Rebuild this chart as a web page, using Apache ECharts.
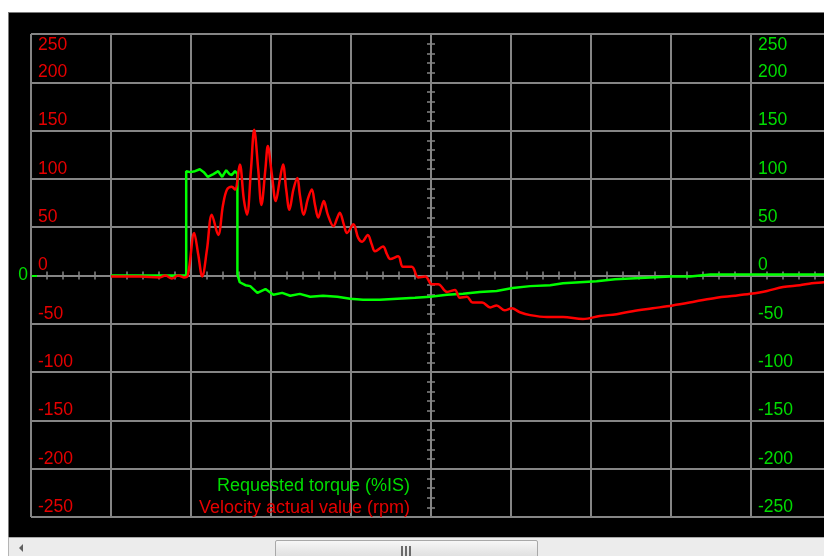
<!DOCTYPE html>
<html>
<head>
<meta charset="utf-8">
<title>Drive trace – torque and velocity</title>
<script src="https://cdn.jsdelivr.net/npm/echarts/dist/echarts.min.js"></script>
<style>
  html, body { margin: 0; padding: 0; background: #ffffff; }
  #wrap { position: relative; width: 824px; height: 556px; overflow: hidden; }
  #panel {
    position: absolute; left: 8px; top: 12px; width: 816px; height: 525px;
    background: #000000; border-left: 1px solid #7a7a7a; border-top: 1px solid #7a7a7a;
    box-sizing: border-box;
  }
  #chart { position: absolute; left: 0; top: 0; width: 824px; height: 556px; }
  #hscroll {
    position: absolute; left: 8px; top: 537px; width: 816px; height: 19px;
    background: #ececec; border-top: 1px solid #a9a9a9; border-left: 1px solid #b5b5b5;
    box-sizing: border-box;
  }
  #arrowL {
    position: absolute; left: 10px; top: 6px; width: 0; height: 0;
    border-top: 4px solid transparent; border-bottom: 4px solid transparent;
    border-right: 4px solid #606060;
  }
  #thumb {
    position: absolute; left: 266px; top: 2px; width: 263px; height: 20px;
    background: linear-gradient(#f6f6f6, #dcdcdc); border: 1px solid #a8a8a8;
    border-radius: 2px; box-sizing: border-box;
  }
  #grip { position: absolute; left: 125px; top: 5px; width: 12px; height: 12px; }
  #grip i { position: absolute; top: 0; width: 2px; height: 12px; background: #6a6a6a; }
</style>
</head>
<body>
<div id="wrap">
  <div id="panel"></div>
  <div id="chart"></div>
  <div id="hscroll">
    <div id="arrowL"></div>
    <div id="thumb"><div id="grip"><i style="left:0"></i><i style="left:4px"></i><i style="left:8px"></i></div></div>
  </div>
</div>
<script>
// Time relative to the centre of the window, ms
const velTime = [-400,-364,-339,-332,-324,-316,-309,-304,-296,-291,-286,-280,-274,-266,-260,-255,-249,-245,-239,-234,-230,-225,-221,-216,-212,-207,-204,-199,-194,-189,-185,-181,-177,-172,-167,-164,-159,-154,-149,-145,-141,-137,-134,-129,-122,-117,-114,-109,-105,-97,-91,-86,-79,-74,-70,-60,-55,-51,-41,-35,-24,-16,-7,1,9,20,30,36,45,52,64,74,82,92,101,111,124,145,165,190,211,232,252,277,302,330,357,380,399,420,440,461,476,491,500];
// Velocity actual value, rpm
const velRpm = [-1,-1,-2,0,-3,0,-2,0,44,22,-1,27,63,42,73,89,92,89,115,79,63,110,151,110,73,110,134,105,77,99,115,89,68,89,101,84,63,79,89,73,60,70,77,63,51,60,65,53,44,53,39,35,42,32,25,30,22,17,20,9,9,-2,-1,-9,-9,-17,-15,-23,-22,-28,-28,-33,-31,-36,-34,-38,-41,-43,-43,-45,-42,-40,-37,-34,-31,-27,-23,-21,-19,-16,-12,-10,-8,-7,-6];

const torqueTime = [-400,-306,-306,-301,-295,-289,-284,-279,-272,-266,-261,-256,-252,-249,-245,-242,-242,-239,-232,-226,-217,-207,-197,-186,-176,-164,-151,-135,-117,-101,-85,-64,-42,-20,-1,20,40,61,82,102,124,149,165,186,207,230,249,274,299,324,349,370,411,461,500];
// Requested torque, % of IS
const torquePct = [0,0,108,107,108,110,107,102,105,108,102,109,105,104,108,105,1,-7,-10,-11,-18,-14,-20,-18,-21,-19,-22,-21,-22,-24,-25,-25,-24,-23,-22,-20,-19,-17,-16,-13,-11,-10,-8,-7,-6,-4,-3,-2,-1,-1,1,1,1,1,1];

const seriesNames = ['Requested torque (%IS)', 'Velocity actual value (rpm)'];
const yTicks = [-250, -200, -150, -100, -50, 0, 50, 100, 150, 200, 250];

const RED = '#ff0000', GREEN = '#00ff00';
const RED_TXT = '#e60000', GREEN_TXT = '#00dc00';
const GRIDC = '#858585';
const FONT = "'Liberation Sans', Arial, sans-serif";

const pair = (xs, ys) => xs.map((x, i) => [x, ys[i]]);

const yMin = yTicks[0], yMax = yTicks[yTicks.length - 1];
const step = yTicks[1] - yTicks[0];

function valueAxisBase(extra) {
  return Object.assign({
    type: 'value', min: yMin, max: yMax, interval: step,
    axisLine: { show: false, onZero: false },
    axisTick: { show: false },
    splitLine: { show: false },
    axisLabel: { show: false }
  }, extra);
}
const lbl = (color, extra) => Object.assign({
  show: true, color: color, fontFamily: FONT, fontSize: 17.5
}, extra);

const chart = echarts.init(document.getElementById('chart'), null, { renderer: 'canvas' });

chart.setOption({
  backgroundColor: 'transparent',
  animation: false,
  grid: { left: 31, top: 34, width: 800, height: 483, outerBoundsMode: 'none', containLabel: false },
  legend: {
    data: [
      { name: seriesNames[0], textStyle: { color: GREEN_TXT } },
      { name: seriesNames[1], textStyle: { color: RED_TXT } }
    ],
    orient: 'vertical', align: 'right', right: 404, top: 472,
    icon: 'none', itemWidth: 0, itemHeight: 18, itemGap: 4,
    selectedMode: false,
    textStyle: { fontFamily: FONT, fontSize: 18, padding: 0 }
  },
  xAxis: [
    { // grid columns
      type: 'value', min: -500, max: 500, interval: 100,
      axisLine: { show: false, onZero: false }, axisTick: { show: false }, axisLabel: { show: false },
      splitLine: { show: true, lineStyle: { color: GRIDC, width: 2 } }
    },
    { // zero line, ticks above
      type: 'value', min: -500, max: 500, interval: 20, position: 'bottom',
      axisLine: { show: true, onZero: true, onZeroAxisIndex: 0, lineStyle: { color: GRIDC, width: 2 } },
      axisTick: { show: true, inside: true, length: 4, lineStyle: { color: GRIDC, width: 1.5 } },
      axisLabel: { show: false }, splitLine: { show: false }
    },
    { // zero line, ticks below
      type: 'value', min: -500, max: 500, interval: 20, position: 'bottom',
      axisLine: { show: false, onZero: true, onZeroAxisIndex: 0 },
      axisTick: { show: true, inside: false, length: 4, lineStyle: { color: GRIDC, width: 1.5 } },
      axisLabel: { show: false }, splitLine: { show: false }
    }
  ],
  yAxis: [
    // 0: velocity scale (left, red)
    valueAxisBase({
      position: 'left',
      splitLine: { show: true, lineStyle: { color: GRIDC, width: 2 } },
      axisLabel: lbl(RED_TXT, { inside: true, margin: 7, verticalAlign: 'bottom', padding: [0, 0, 1, 0],
        formatter: v => (v === yMax ? '' : String(v)) })
    }),
    // 1: torque scale (right, green)
    valueAxisBase({
      position: 'right', offset: -80,
      axisLabel: lbl(GREEN_TXT, { inside: false, margin: 7, verticalAlign: 'bottom', padding: [0, 0, 1, 0],
        formatter: v => (v === yMax ? '' : String(v)) })
    }),
    // 2, 3: centre time marker with ticks both sides
    valueAxisBase({
      interval: 10, position: 'left',
      axisLine: { show: true, onZero: true, onZeroAxisIndex: 0, lineStyle: { color: GRIDC, width: 2 } },
      axisTick: { show: true, inside: true, length: 4, lineStyle: { color: GRIDC, width: 1.5 } }
    }),
    valueAxisBase({
      interval: 10, position: 'left',
      axisLine: { show: false, onZero: true, onZeroAxisIndex: 0 },
      axisTick: { show: true, inside: false, length: 4, lineStyle: { color: GRIDC, width: 1.5 } }
    }),
    // 4: top velocity label
    valueAxisBase({
      position: 'left',
      axisLabel: lbl(RED_TXT, { inside: true, margin: 7, verticalAlign: 'top', padding: [2, 0, 0, 0],
        formatter: v => (v === yMax ? String(v) : '') })
    }),
    // 5: top torque label
    valueAxisBase({
      position: 'right', offset: -80,
      axisLabel: lbl(GREEN_TXT, { inside: false, margin: 7, verticalAlign: 'top', padding: [2, 0, 0, 0],
        formatter: v => (v === yMax ? String(v) : '') })
    }),
    // 6: torque zero reference outside the plot
    valueAxisBase({
      position: 'left',
      axisTick: { show: true, inside: true, length: 6, customValues: [0], lineStyle: { color: GREEN, width: 2 } },
      axisLabel: lbl(GREEN_TXT, { inside: false, margin: 3, verticalAlign: 'middle',
        formatter: v => (v === 0 ? '0' : '') })
    })
  ],
  series: [
    {
      name: seriesNames[0], type: 'line', xAxisIndex: 0, yAxisIndex: 1,
      data: pair(torqueTime, torquePct),
      showSymbol: false, lineStyle: { color: GREEN, width: 2.5 }, itemStyle: { color: GREEN },
      z: 3
    },
    {
      name: seriesNames[1], type: 'line', xAxisIndex: 0, yAxisIndex: 0,
      data: pair(velTime, velRpm), smooth: 0.35,
      showSymbol: false, lineStyle: { color: RED, width: 2.5 }, itemStyle: { color: RED },
      z: 4
    }
  ]
});
</script>
</body>
</html>
